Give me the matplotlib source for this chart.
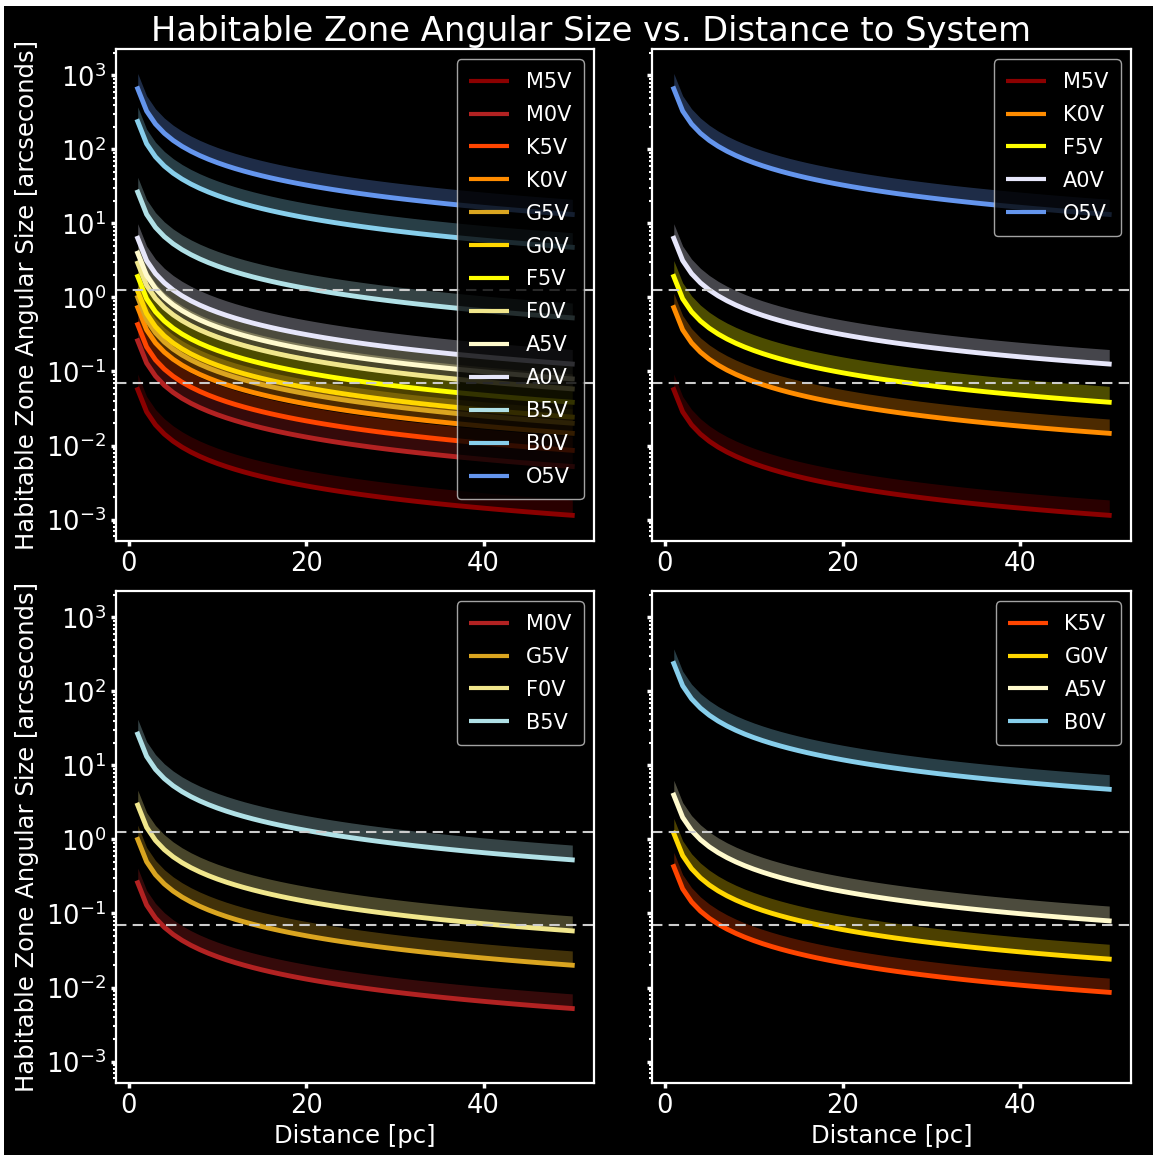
import numpy as np
import matplotlib.pyplot as plt
from matplotlib.patches import Rectangle

plt.style.use('dark_background')

# distances to the system [pc]
distance_pc = list(range(1, 51))

# main-sequence spectral types and their habitable zone edges [AU]
star_types = ['M5V', 'M0V', 'K5V', 'K0V', 'G5V', 'G0V', 'F5V',
              'F0V', 'A5V', 'A0V', 'B5V', 'B0V', 'O5V']
hz_inner_au = [0.057, 0.26, 0.43, 0.73, 1.00, 1.21, 1.92,
               2.91, 3.97, 6.3, 26.5, 238.0, 660.0]
hz_outer_au = [0.092, 0.41, 0.67, 1.14, 1.56, 1.92, 3.15,
               4.63, 6.3, 9.9, 42.0, 375.0, 1060.0]
star_colors = ['darkred', 'firebrick', 'orangered', 'darkorange', 'goldenrod',
               'gold', 'yellow', 'khaki', 'lemonchiffon', 'lavender',
               'powderblue', 'skyblue', 'cornflowerblue']

# which types go in each panel
panel_types = [
    star_types,
    ['M5V', 'K0V', 'F5V', 'A0V', 'O5V'],
    ['M0V', 'G5V', 'F0V', 'B5V'],
    ['K5V', 'G0V', 'A5V', 'B0V'],
]

# resolution limits [arcsec]
limits_arcsec = [1.27, 0.07]

W, H = 1153, 1155
fig = plt.figure(figsize=(W / 100, H / 100), dpi=100, facecolor='white')
fig.patches.append(Rectangle((4 / W, 0), 1, 1 - 6 / H, transform=fig.transFigure,
                             facecolor='black', edgecolor='none', zorder=-10))

lefts = [116 / W, 652 / W]
widths = [478 / W, 479 / W]
bottoms = [1 - 541 / H, 1 - 1083 / H]
height = 492 / H

d = np.array(distance_pc, dtype=float)
axes = []
for i, names in enumerate(panel_types):
    row, col = divmod(i, 2)
    ax = fig.add_axes([lefts[col], bottoms[row], widths[col], height])
    ax.set_facecolor('black')
    axes.append(ax)
    for name in names:
        k = star_types.index(name)
        c = star_colors[k]
        inner = hz_inner_au[k] / d
        outer = hz_outer_au[k] / d
        ax.fill_between(d, inner, outer, color=c, alpha=0.3, linewidth=0)
        ax.plot(d, inner, color=c, lw=3.5, label=name)
    for lim in limits_arcsec:
        ax.axhline(lim, color='0.8', ls='--', lw=1.5, dashes=(5, 3))
    ax.set_yscale('log')
    ax.set_ylim(10 ** -3.29, 10 ** 3.356)
    ax.set_xlim(-1.45, 52.45)
    ax.set_xticks([0, 20, 40])
    for s in ax.spines.values():
        s.set_linewidth(1.6)
        s.set_color('white')
    ax.tick_params(which='major', labelsize=18.5, width=2.5, length=3.5, color='white')
    ax.tick_params(which='minor', width=1.5, length=2.5, color='white')
    if col == 1:
        ax.tick_params(axis='y', which='both', labelleft=False)
    else:
        ax.set_ylabel('Habitable Zone Angular Size [arcseconds]', fontsize=17.5, labelpad=5)
    if row == 1:
        ax.set_xlabel('Distance [pc]', fontsize=17.5, labelpad=4)
    leg = ax.legend(loc='upper right', fontsize=15, handlelength=1.9,
                    labelspacing=0.62, borderpad=0.6, facecolor='black',
                    framealpha=0.8, edgecolor='0.8')
    for line in leg.get_lines():
        line.set_linewidth(3)
        line.set_solid_capstyle('butt')

fig.suptitle('Habitable Zone Angular Size vs. Distance to System',
             fontsize=24.3, color='white', x=0.513, y=0.987, va='top')

fig.savefig('out.png', dpi=100, facecolor=fig.get_facecolor())
